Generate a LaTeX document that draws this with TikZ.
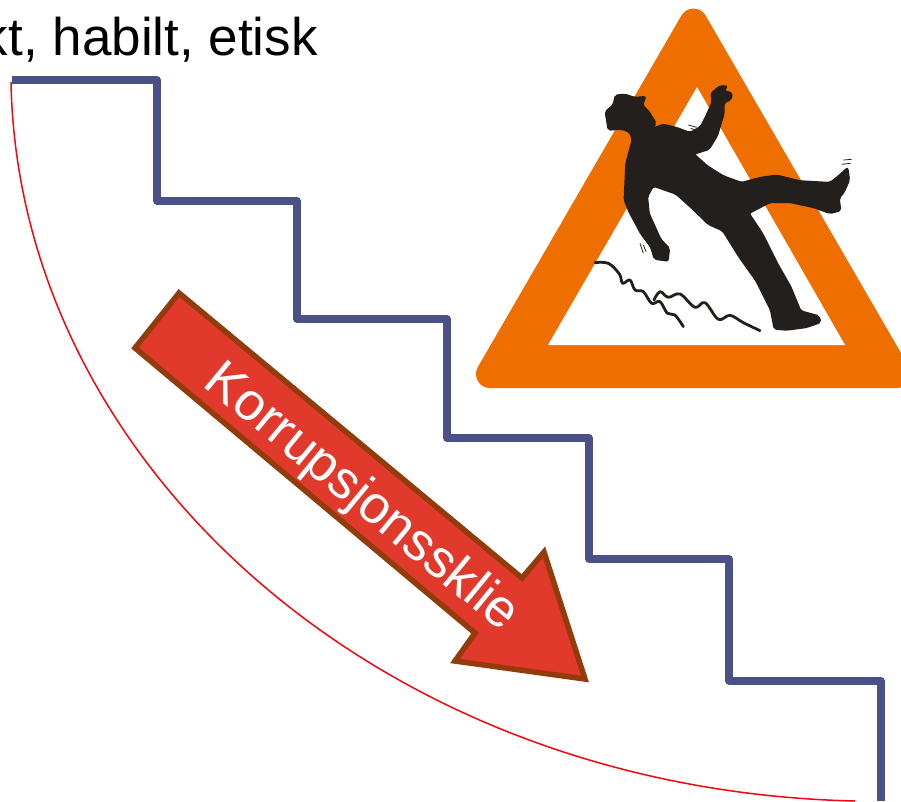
\documentclass[tikz,border=0pt]{standalone}
\usepackage{fontspec}
\setmainfont{Liberation Sans}
\definecolor{stair}{HTML}{4B5087}
\definecolor{curve}{HTML}{F5060E}
\definecolor{arrowfill}{HTML}{E1392C}
\definecolor{arrowline}{HTML}{943B0C}
\definecolor{signorange}{HTML}{EE6E00}
\definecolor{manblack}{HTML}{231F1C}
\tikzset{
  stairline/.style={draw=stair,line width=7.4pt,line join=round,line cap=butt},
  sliderarrow/.style={fill=arrowfill,draw=arrowline,line width=5.5pt,line join=miter},
  sign/.style={fill=signorange,draw=signorange,line width=28pt,line join=round},
  scribble/.style={draw=manblack,line width=0.8pt},
  slipline/.style={draw=manblack,line width=2.8pt,line cap=round,line join=round}
}
\begin{document}
\begin{tikzpicture}[x=1pt,y=-1pt]
\useasboundingbox (0,0) rectangle (901,801);
\clip (0,0) rectangle (901,801);
\fill[white] (0,0) rectangle (901,801);
% warning sign
\path[sign] (693.5,22.6) -- (897,374) -- (490,374) -- cycle;
\fill[white] (697,87) -- (845,345) -- (548,345) -- cycle;
% falling man
\begin{scope}[shift={(580,70)},x=0.3333pt,y=-0.3333pt]
\fill[manblack,draw=manblack,line width=1.5pt,rounded corners=2pt]
 (85,180) -- (76,125) -- (100,105) -- (106,76) -- (135,73) -- (165,83) -- (197,80) -- (187,105) -- (207,125) -- (228,160) -- (217,176) --
 (250,163) -- (290,173) -- (330,188) -- (362,170) -- (382,130) -- (397,95) -- (393,70) -- (420,48) -- (442,48) -- (432,62) -- (457,70) -- (452,90) -- (432,97) -- (432,130) -- (412,197) -- (387,238) -- (342,252) --
 (382,288) -- (430,318) -- (485,338) -- (540,323) -- (590,316) -- (660,333) -- (750,338) -- (773,320) -- (803,293) -- (808,330) -- (792,367) -- (777,385) -- (782,422) -- (750,430) -- (700,412) -- (630,397) -- (570,397) -- (507,430) --
 (547,490) -- (592,580) -- (632,650) -- (662,723) -- (717,738) -- (722,757) -- (680,772) -- (620,780) -- (583,777) -- (572,720) -- (528,632) -- (478,562) -- (428,482) -- (385,463) -- (338,417) -- (288,372) -- (220,348) --
 (202,380) -- (207,430) -- (242,508) -- (268,535) -- (264,573) -- (223,567) -- (213,532) -- (183,492) -- (148,427) -- (133,390) -- (138,280) -- (157,210) -- (150,187) -- (125,177) -- cycle;
\draw[scribble] (325,165) -- (350,172) (332,175) -- (352,182);
\draw[scribble] (790,270) -- (815,268) (785,283) -- (812,280);
\draw[scribble] (180,520) -- (190,550) (190,525) -- (198,545);
\draw[slipline] plot[smooth,tension=0.6] coordinates {(45,578) (85,580) (118,612) (128,640) (150,630) (165,660) (190,665) (215,700) (240,695) (262,730) (285,735) (310,770)};
\draw[slipline] plot[smooth,tension=0.6] coordinates {(222,690) (240,665) (265,682) (300,672) (345,712) (375,698) (415,748) (450,736) (490,758) (540,782)};
\end{scope}
% stairs
\path[stairline] (12,80) -- (157,80) -- (157,201) -- (297,201) -- (297,319) -- (447,319) -- (447,438) -- (589,438) -- (589,559) -- (729,559) -- (729,681) -- (881,681) -- (881,801);
% red curve
\draw[curve,line width=1.5pt] (11,82) .. controls (18,460) and (375,790) .. (855,801);
% slide arrow
\path[sliderarrow] (179,293) -- (522,578) -- (544,552) -- (585,679) -- (455,661) -- (475,633) -- (135,348) -- cycle;
\node[text=white,font=\fontsize{53}{53}\selectfont,rotate=-39.5,anchor=base,inner sep=0pt] (slide) at (352,509) {Korrupsjonssklie};
% heading
\node[text=black,font=\fontsize{53}{53}\selectfont,anchor=base east,inner sep=0pt] (heading) at (318,55) {kt, habilt, etisk};
\end{tikzpicture}
\end{document}
